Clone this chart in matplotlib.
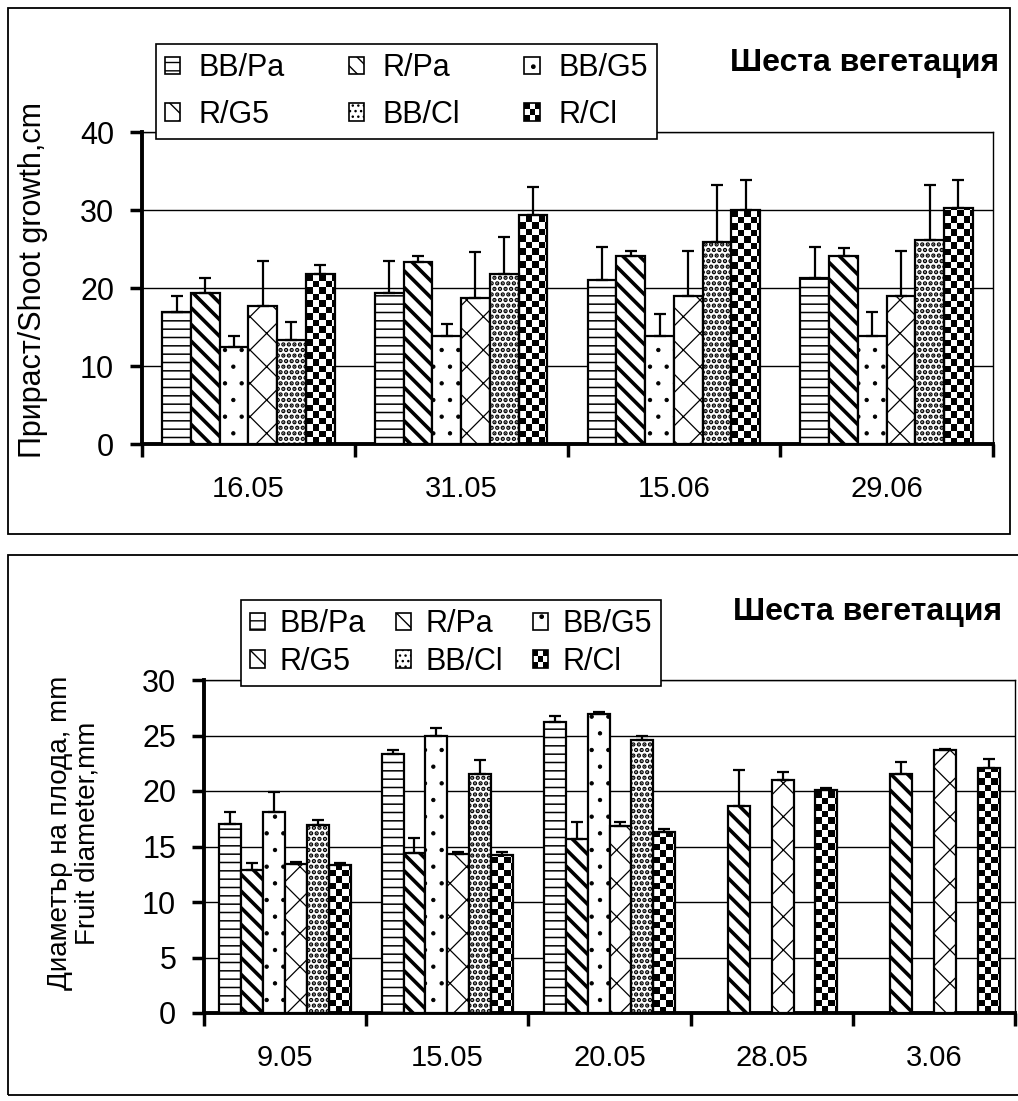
import numpy as np
import matplotlib.pyplot as plt
from matplotlib.patches import Rectangle
from matplotlib.legend_handler import HandlerBase

plt.rcParams['font.family'] = ['Liberation Sans', 'DejaVu Sans']

# ---- data -------------------------------------------------------------
series = ['BB/Pa', 'R/Pa', 'BB/G5', 'R/G5', 'BB/Cl', 'R/Cl']

# top panel: shoot growth, cm
growth_dates = ['16.05', '31.05', '15.06', '29.06']
growth_bb_pa = [16.9, 19.3, 21.0, 21.3]
growth_r_pa = [19.4, 23.3, 24.1, 24.1]
growth_bb_g5 = [12.5, 13.8, 13.8, 13.8]
growth_r_g5 = [17.7, 18.7, 19.0, 19.0]
growth_bb_cl = [13.3, 21.8, 25.9, 26.2]
growth_r_cl = [21.8, 29.4, 30.0, 30.2]
growth_bb_pa_err = [2.1, 4.2, 4.3, 4.0]
growth_r_pa_err = [1.9, 0.8, 0.7, 1.0]
growth_bb_g5_err = [1.3, 1.6, 2.9, 3.1]
growth_r_g5_err = [5.8, 5.9, 5.8, 5.8]
growth_bb_cl_err = [2.3, 4.8, 7.3, 7.0]
growth_r_cl_err = [1.2, 3.6, 3.8, 3.6]

# bottom panel: fruit diameter, mm
nan = np.nan
fruit_dates = ['9.05', '15.05', '20.05', '28.05', '3.06']
fruit_bb_pa = [17.0, 23.3, 26.2, nan, nan]
fruit_r_pa = [12.9, 14.4, 15.7, 18.65, 21.5]
fruit_bb_g5 = [18.1, 24.95, 26.9, nan, nan]
fruit_r_g5 = [13.4, 14.35, 16.85, 21.0, 23.7]
fruit_bb_cl = [16.9, 21.5, 24.6, nan, nan]
fruit_r_cl = [13.3, 14.2, 16.3, 20.1, 22.1]
fruit_bb_pa_err = [1.1, 0.4, 0.6, nan, nan]
fruit_r_pa_err = [0.6, 1.4, 1.5, 3.25, 1.1]
fruit_bb_g5_err = [1.8, 0.7, 0.2, nan, nan]
fruit_r_g5_err = [0.2, 0.15, 0.35, 0.7, 0.05]
fruit_bb_cl_err = [0.5, 1.3, 0.4, nan, nan]
fruit_r_cl_err = [0.2, 0.3, 0.3, 0.2, 0.8]

title = 'Шеста вегетация'

# ---- styles -------------------------------------------------------------
hatches = ['--', '\\\\', '.', 'x', '...', None]
hatch_lw = [1.1, 2.6, 0.7, 0.9, 2.2, 1.0]
CHECKER = 5  # index of the checkerboard series

W, H = 1018, 1101
fig = plt.figure(figsize=(W / 100, H / 100), dpi=100)


def box(x0, y0, x1, y1):
    """pixel box (top-left origin) -> figure fraction rect"""
    return [x0 / W, 1 - y1 / H, (x1 - x0) / W, (y1 - y0) / H]


def add_checker(ax, bar, cell=6.5):
    x0, w, h = bar.get_x(), bar.get_width(), bar.get_height()
    p0 = ax.transData.transform((x0, 0))
    p1 = ax.transData.transform((x0 + w, h))
    nx = int(np.ceil((p1[0] - p0[0]) / cell))
    ny = int(np.ceil((p1[1] - p0[1]) / cell))
    dx = w * cell / (p1[0] - p0[0])
    dy = h * cell / (p1[1] - p0[1])
    board = np.add.outer(np.arange(ny), np.arange(nx)) % 2
    im = ax.imshow(board, cmap='gray_r', vmin=0, vmax=1, origin='lower',
                   extent=(x0, x0 + nx * dx, 0, ny * dy),
                   interpolation='nearest', aspect='auto', zorder=2.5)
    im.set_clip_path(bar)


def draw_panel(ax, dates, values, errs, ymax, ystep):
    n = len(dates)
    ax.set_xlim(-0.5, n - 0.5)
    ax.set_ylim(0, ymax)
    width = 0.135
    for i in range(len(series)):
        x = np.arange(n) + (i - 2.5) * width
        v = np.array(values[i], dtype=float)
        e = np.array(errs[i], dtype=float)
        ok = ~np.isnan(v)
        face = 'none' if i == CHECKER else 'white'
        with plt.rc_context({'hatch.linewidth': hatch_lw[i]}):
            bars = ax.bar(x[ok], v[ok], width, facecolor=face, edgecolor='k',
                          linewidth=1.6, hatch=hatches[i], zorder=3)
        for b in bars:
            if hasattr(b, 'set_hatch_linewidth'):
                b.set_hatch_linewidth(hatch_lw[i])
            if i == CHECKER:
                add_checker(ax, b)
        ax.errorbar(x[ok], v[ok], yerr=[np.zeros(ok.sum()), e[ok]], fmt='none',
                    ecolor='k', elinewidth=1.6, capsize=4, capthick=1.6, zorder=4)

    ax.set_axisbelow(True)
    ax.yaxis.grid(True, color='k', lw=1)
    ax.set_yticks(np.arange(0, ymax + 0.1, ystep))
    ax.tick_params(axis='y', direction='out', length=9, width=2.5, pad=11,
                   labelsize=22)
    ax.set_xticks(range(n))
    ax.set_xticklabels(dates)
    ax.set_xticks(np.arange(-0.5, n), minor=True)
    ax.tick_params(axis='x', which='major', length=0, pad=22, labelsize=21)
    ax.tick_params(axis='x', which='minor', direction='out', length=9, width=2.5)
    for s in ['left', 'bottom']:
        ax.spines[s].set_linewidth(2.8)
    for s in ['top', 'right']:
        ax.spines[s].set_linewidth(1.0)


class CheckerHandler(HandlerBase):
    def create_artists(self, legend, orig_handle, xdescent, ydescent,
                       width, height, fontsize, trans):
        arts = [Rectangle((-xdescent, -ydescent), width, height,
                          facecolor='white', edgecolor='none', transform=trans)]
        n = 3
        cw, ch = width / n, height / n
        for i in range(n):
            for j in range(n):
                if (i + j) % 2 == 0:
                    arts.append(Rectangle((-xdescent + i * cw, -ydescent + j * ch),
                                          cw, ch, facecolor='k', edgecolor='none',
                                          transform=trans))
        arts.append(Rectangle((-xdescent, -ydescent), width, height,
                              facecolor='none', edgecolor='k', lw=1.2,
                              transform=trans))
        return arts


def add_legend(anchor, colspace, textpad, rowspace):
    handles = []
    for i in range(len(series)):
        with plt.rc_context({'hatch.linewidth': min(hatch_lw[i], 1.2)}):
            handles.append(Rectangle((0, 0), 1, 1, facecolor='white',
                                     edgecolor='k', lw=1.2, hatch=hatches[i]))
    order = [0, 3, 1, 4, 2, 5]
    leg = fig.legend([handles[k] for k in order], [series[k] for k in order],
                     ncol=3, loc='upper left', bbox_to_anchor=anchor,
                     bbox_transform=fig.transFigure, frameon=True,
                     fancybox=False, edgecolor='k', framealpha=1, fontsize=22,
                     handlelength=0.5, handleheight=0.5, handletextpad=textpad,
                     columnspacing=colspace, borderpad=0.3, labelspacing=rowspace,
                     borderaxespad=0,
                     handler_map={handles[CHECKER]: CheckerHandler()})
    leg.get_frame().set_linewidth(1.2)
    return leg


# ---- top panel ---------------------------------------------------------
fig.add_artist(Rectangle((8 / W, 1 - 534 / H), 1002 / W, 526 / H,
                         transform=fig.transFigure, fill=False, ec='k', lw=1.3))
ax1 = fig.add_axes(box(142, 132, 993, 444))
draw_panel(ax1, growth_dates,
           [growth_bb_pa, growth_r_pa, growth_bb_g5, growth_r_g5, growth_bb_cl, growth_r_cl],
           [growth_bb_pa_err, growth_r_pa_err, growth_bb_g5_err, growth_r_g5_err,
            growth_bb_cl_err, growth_r_cl_err],
           40, 10)
fig.text(33 / W, 1 - 280 / H, 'Прираст/Shoot growth,cm', rotation=90,
         ha='center', va='center', fontsize=22)
fig.text(865 / W, 1 - 63 / H, title, ha='center', va='center',
         fontsize=23, fontweight='bold')
add_legend((156 / W, 1 - 44 / H), 2.1, 0.6, 0.55)

# ---- bottom panel ------------------------------------------------------
fig.add_artist(Rectangle((8 / W, 1 - 1095 / H), 1030 / W, 540 / H,
                         transform=fig.transFigure, fill=False, ec='k', lw=1.3))
ax2 = fig.add_axes(box(204, 680, 1015, 1013))
draw_panel(ax2, fruit_dates,
           [fruit_bb_pa, fruit_r_pa, fruit_bb_g5, fruit_r_g5, fruit_bb_cl, fruit_r_cl],
           [fruit_bb_pa_err, fruit_r_pa_err, fruit_bb_g5_err, fruit_r_g5_err,
            fruit_bb_cl_err, fruit_r_cl_err],
           30, 5)
fig.text(74 / W, 1 - 833 / H, 'Диаметър на плода, mm\nFruit diameter,mm',
         rotation=90, ha='center', va='center', fontsize=20, linespacing=1.1,
         multialignment='center')
fig.text(868 / W, 1 - 612 / H, title, ha='center', va='center',
         fontsize=23, fontweight='bold')
add_legend((241 / W, 1 - 600 / H), 1.0, 0.45, 0.25)

fig.savefig('out.png', dpi=100)
